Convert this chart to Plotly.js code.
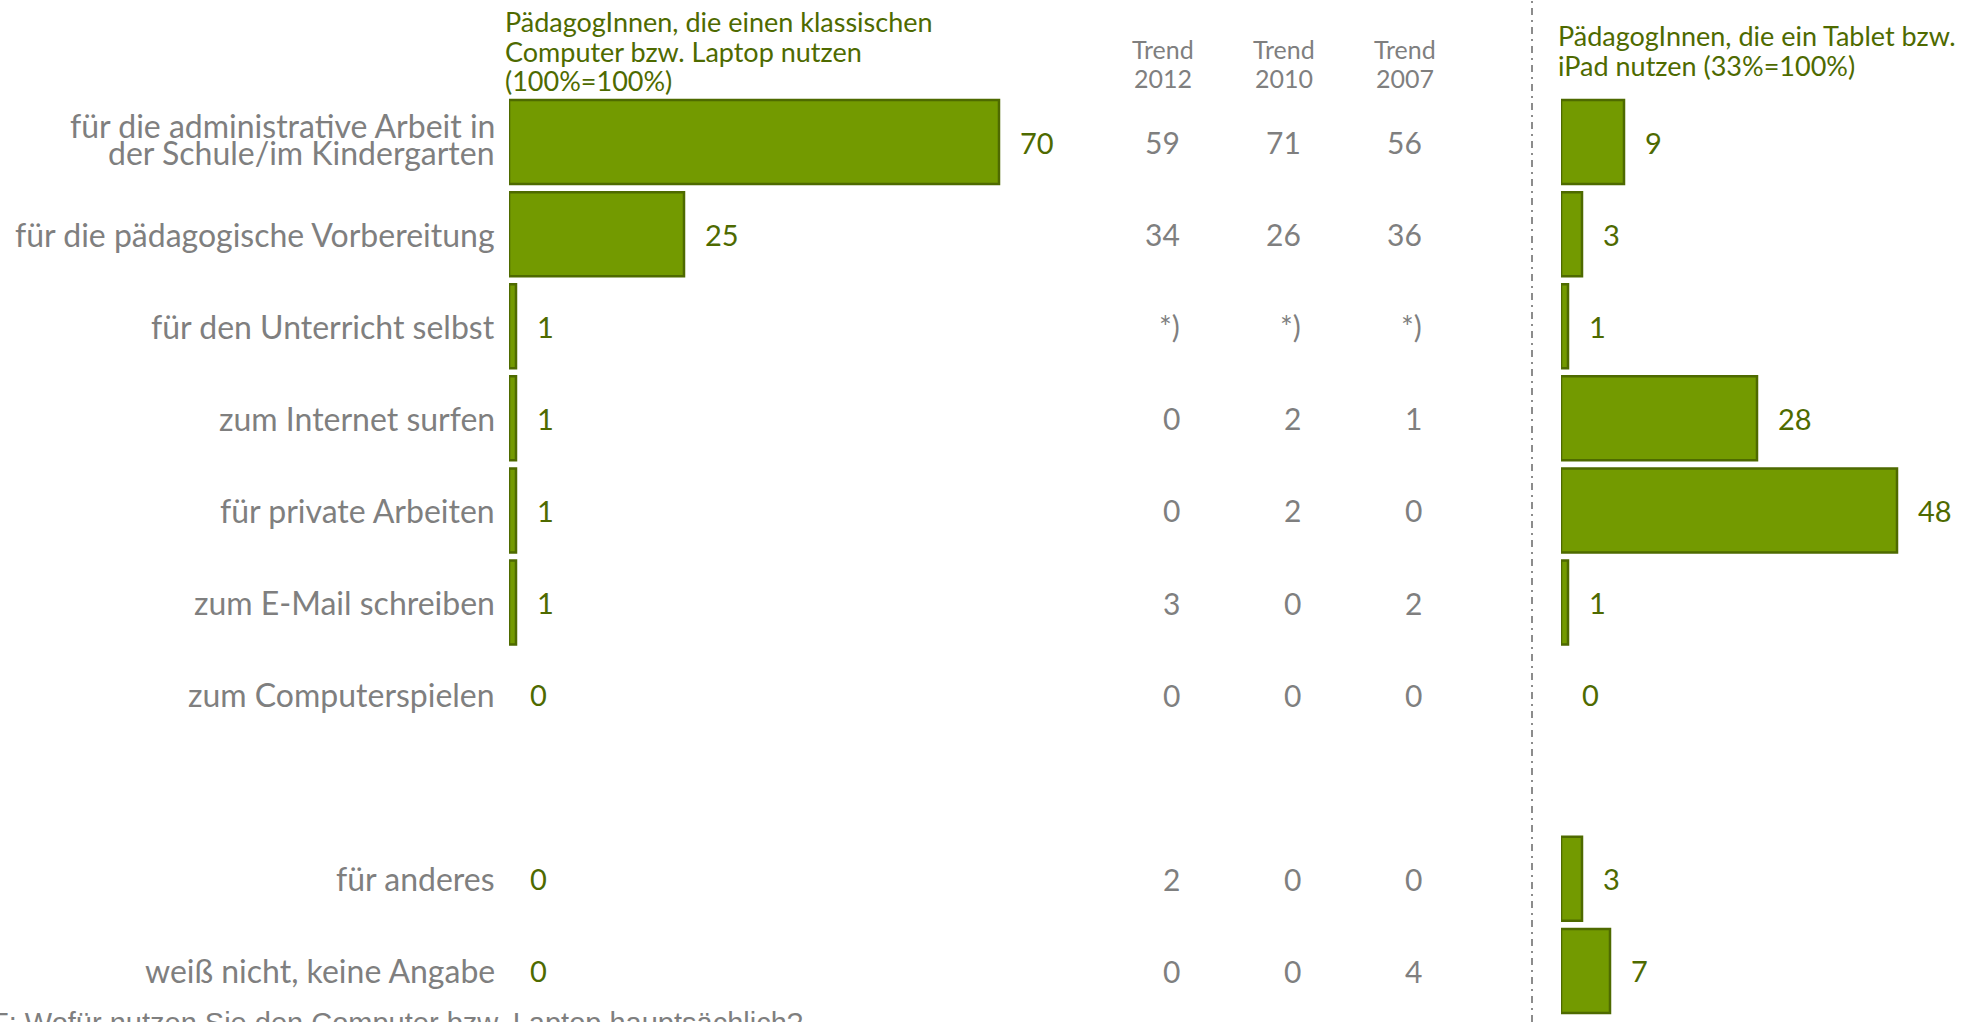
<!DOCTYPE html>
<html>
<head>
<meta charset="utf-8">
<script src="https://cdn.plot.ly/plotly-3.0.1.min.js"></script>
<style>html,body{margin:0;padding:0;background:#fff;}#chart{width:1970px;height:1022px;}</style>
</head>
<body>
<div id="chart"></div>
<script>
// ---- data ----
const categories = [
  "für die administrative Arbeit in<br>der Schule/im Kindergarten",
  "für die pädagogische Vorbereitung",
  "für den Unterricht selbst",
  "zum Internet surfen",
  "für private Arbeiten",
  "zum E-Mail schreiben",
  "zum Computerspielen",
  "für anderes",
  "weiß nicht, keine Angabe"
];
const spacerAfter = "zum Computerspielen";
const laptopValues = [70, 25, 1, 1, 1, 1, 0, 0, 0];
const tabletValues = [9, 3, 1, 28, 48, 1, 0, 3, 7];
const trendYears = ["Trend<br>2012", "Trend<br>2010", "Trend<br>2007"];
const trend2012 = ["59", "34", "*)", "0", "0", "3", "0", "2", "0"];
const trend2010 = ["71", "26", "*)", "2", "2", "0", "0", "0", "0"];
const trend2007 = ["56", "36", "*)", "1", "0", "2", "0", "0", "4"];
const laptopHeader = "PädagogInnen, die einen klassischen<br>Computer bzw. Laptop nutzen<br>(100%=100%)";
const tabletHeader = "PädagogInnen, die ein Tablet bzw.<br>iPad nutzen (33%=100%)";
const footnote = "F: Wofür nutzen Sie den Computer bzw. Laptop hauptsächlich?";

// ---- styling ----
const W = 1970, H = 1022;
const FONT = "Lato, 'Open Sans', sans-serif";
const GREEN = "#739a00", GREEN_DARK = "#4e6a00", GREY = "#7f7f7f";
const PX_PER_UNIT = 7.0;

const axisOrder = [];
categories.forEach(c => { axisOrder.push(c); if (c === spacerAfter) axisOrder.push(" "); });

const px = v => v / W;
const py = v => (H - v) / H;

const leftStart = 509, leftWidth = 520;
const rightStart = 1561, rightWidth = 400;

const trendSeries = [trend2012, trend2010, trend2007];
const nullZero = v => (v === 0 ? null : v);

const traces = [
  {
    type: "bar", orientation: "h", x: laptopValues.map(nullZero), y: categories,
    xaxis: "x", yaxis: "y", width: 0.912,
    marker: {color: GREEN, line: {color: GREEN_DARK, width: 2.5}},
    hoverinfo: "skip", cliponaxis: false
  },
  {
    type: "bar", orientation: "h", x: tabletValues.map(nullZero), y: categories,
    xaxis: "x2", yaxis: "y", width: 0.912,
    marker: {color: GREEN, line: {color: GREEN_DARK, width: 2.5}},
    hoverinfo: "skip", cliponaxis: false
  }
];
// carrier traces that register the trend columns on their category axis
trendSeries.forEach((vals, i) => {
  traces.push({
    type: "scatter", mode: "none", x: categories.map(() => trendYears[i]), y: categories,
    xaxis: "x3", yaxis: "y", hoverinfo: "skip", showlegend: false
  });
});

const annotations = [];
// helper: multi-line text with controlled line spacing
function addLines(text, base, spacing, offset) {
  const lines = text.split("<br>");
  lines.forEach((ln, j) => {
    const a = Object.assign({}, base, {text: ln, showarrow: false});
    a.yshift = ((lines.length - 1) / 2 - j) * spacing + (lines.length > 1 ? (offset || 0) : 0);
    annotations.push(a);
  });
}
// category labels
categories.forEach(c => {
  addLines(c, {xref: "paper", yref: "y", x: px(497), y: c, xanchor: "right", yanchor: "middle",
    font: {family: FONT, size: 32, color: GREY}}, 27.6, 3);
});
// value labels
[[laptopValues, "x"], [tabletValues, "x2"]].forEach(([vals, ax]) => {
  vals.forEach((v, i) => {
    annotations.push({
      xref: ax, yref: "y", x: v, y: categories[i], xanchor: "left", yanchor: "middle",
      text: String(v), showarrow: false, xshift: 19,
      font: {family: FONT, size: 29, color: GREEN_DARK}
    });
  });
});
// trend values (right-aligned within each column, as in the source)
trendSeries.forEach((vals, i) => {
  vals.forEach((v, k) => {
    annotations.push({
      xref: "x3", yref: "y", x: trendYears[i], y: categories[k], xanchor: "right", yanchor: "middle",
      text: v, showarrow: false, xshift: 19, font: {family: FONT, size: 30, color: GREY}
    });
  });
});
// trend headers
trendYears.forEach(t => {
  addLines(t, {xref: "x3", yref: "paper", x: t, y: py(63.5), xanchor: "center", yanchor: "middle",
    font: {family: FONT, size: 25, color: GREY}}, 29);
});
// panel headers
addLines(laptopHeader, {xref: "paper", yref: "paper", x: px(503), y: py(51), xanchor: "left",
  yanchor: "middle", font: {family: FONT, size: 27, color: GREEN_DARK}}, 29.7);
addLines(tabletHeader, {xref: "paper", yref: "paper", x: px(1556), y: py(50), xanchor: "left",
  yanchor: "middle", font: {family: FONT, size: 27, color: GREEN_DARK}}, 30);
// footnote (cut off at the bottom edge as in the source)
annotations.push({
  xref: "paper", yref: "paper", x: px(-11), y: py(1005), xanchor: "left", yanchor: "top",
  align: "left", text: footnote, showarrow: false,
  font: {family: "'Liberation Sans', Arial, sans-serif", size: 29, color: GREY}
});

const layout = {
  width: W, height: H,
  margin: {l: 0, r: 0, t: 0, b: 0, pad: 0},
  paper_bgcolor: "#ffffff", plot_bgcolor: "rgba(0,0,0,0)",
  showlegend: false, barmode: "group",
  font: {family: FONT},
  xaxis: {domain: [px(leftStart), px(leftStart + leftWidth)], range: [0, leftWidth / PX_PER_UNIT],
    visible: false, fixedrange: true},
  xaxis2: {domain: [px(rightStart), px(rightStart + rightWidth)], range: [0, rightWidth / PX_PER_UNIT],
    visible: false, fixedrange: true, anchor: "y"},
  xaxis3: {domain: [px(1102.5), px(1465.5)], type: "category", categoryorder: "array",
    categoryarray: trendYears, range: [-0.5, 2.5], anchor: "y",
    showticklabels: false, showgrid: false, zeroline: false, showline: false, ticks: "", fixedrange: true},
  yaxis: {domain: [py(1017), py(96)], type: "category", categoryorder: "array",
    categoryarray: axisOrder, range: [axisOrder.length - 0.5, -0.5],
    showticklabels: false, showgrid: false, zeroline: false, showline: false, ticks: "", fixedrange: true},
  shapes: [{
    type: "line", xref: "paper", yref: "paper", x0: px(1532), x1: px(1532), y0: 0, y1: 1,
    line: {color: "#8c8c8c", width: 2, dash: "7px,5px,2px,5px"}
  }],
  annotations: annotations
};

Plotly.newPlot("chart", traces, layout, {staticPlot: true, displayModeBar: false});
</script>
</body>
</html>
